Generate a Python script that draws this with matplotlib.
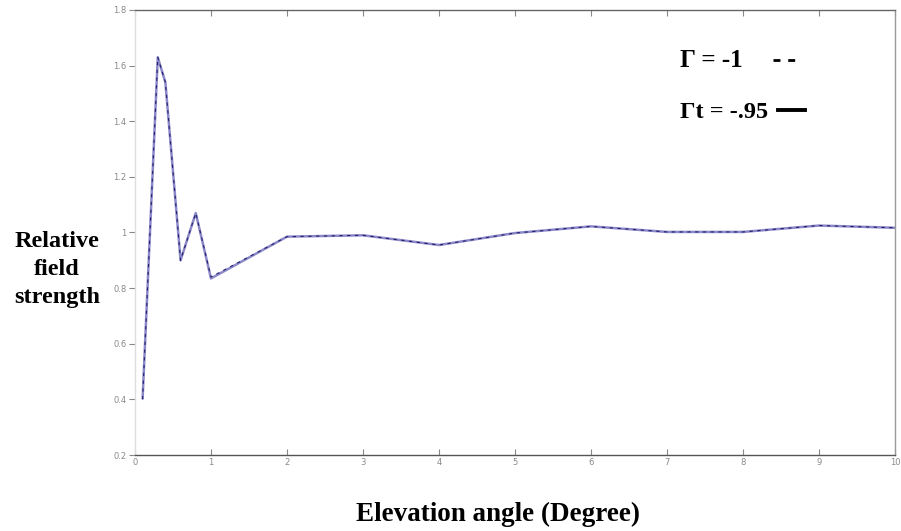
import matplotlib.pyplot as plt
import numpy as np

# elevation angle (degree) and relative field strength
angle = [0.1, 0.3, 0.4, 0.6, 0.8, 1.0, 2, 3, 4, 5, 6, 7, 8, 9, 10]
field_g1 = [0.40, 1.63, 1.54, 0.90, 1.07, 0.84, 0.985, 0.99, 0.955, 0.998, 1.022, 1.002, 1.002, 1.025, 1.017]
field_g95 = [0.40, 1.63, 1.54, 0.90, 1.07, 0.835, 0.985, 0.99, 0.955, 0.998, 1.022, 1.002, 1.002, 1.025, 1.017]

xticks = np.arange(0, 11, 1)
yticks = [0.2, 0.4, 0.6, 0.8, 1.0, 1.2, 1.4, 1.6, 1.8]
yticklabels = ['0.2', '0.4', '0.6', '0.8', '1', '1.2', '1.4', '1.6', '1.8']

fig = plt.figure(figsize=(9.01, 5.31), dpi=100)
ax = fig.add_axes([0.1498, 0.1431, 0.8435, 0.8381])

ax.plot(angle, field_g95, color='#8c89c8', lw=1.8, solid_capstyle='butt')
ax.plot(angle, field_g1, color='#22206e', lw=0.8, ls=(0, (3, 4)))

ax.set_xlim(0, 10)
ax.set_ylim(0.2, 1.8)
ax.set_xticks(xticks)
ax.set_yticks(yticks)
ax.set_yticklabels(yticklabels)
ax.tick_params(direction='in', length=4, width=0.8, colors='#888888',
               labelsize=6, top=True, pad=2)
ax.tick_params(axis='y', direction='out', length=4)
ax.spines['bottom'].set_color('#555555')
ax.spines['top'].set_color('#666666')
ax.spines['left'].set_color('#dddddd')
ax.spines['right'].set_color('#999999')
for s in ax.spines.values():
    s.set_linewidth(1.0)

serif = 'Liberation Serif'
fig.text(0.063, 0.492, 'Relative\nfield\nstrength', ha='center', va='center',
         fontsize=17.5, fontweight='bold', family=serif, linespacing=1.45)
fig.text(0.553, 0.032, 'Elevation angle (Degree)', ha='center', va='center',
         fontsize=19.5, fontweight='bold', family=serif)

# legend drawn as text like the original
ax.text(7.17, 1.62, '\u0393 = -1', fontsize=18, fontweight='bold', family=serif,
        va='center')
ax.plot([8.39, 8.72], [1.62, 1.62], color='black', lw=2, ls=(0, (2.5, 2.8)))
ax.text(7.17, 1.433, '\u0393t = -.95', fontsize=17.5, fontweight='bold', family=serif,
        va='center')
ax.plot([8.46, 8.82], [1.44, 1.44], color='black', lw=2.8)

fig.savefig('out.png', dpi=100)
